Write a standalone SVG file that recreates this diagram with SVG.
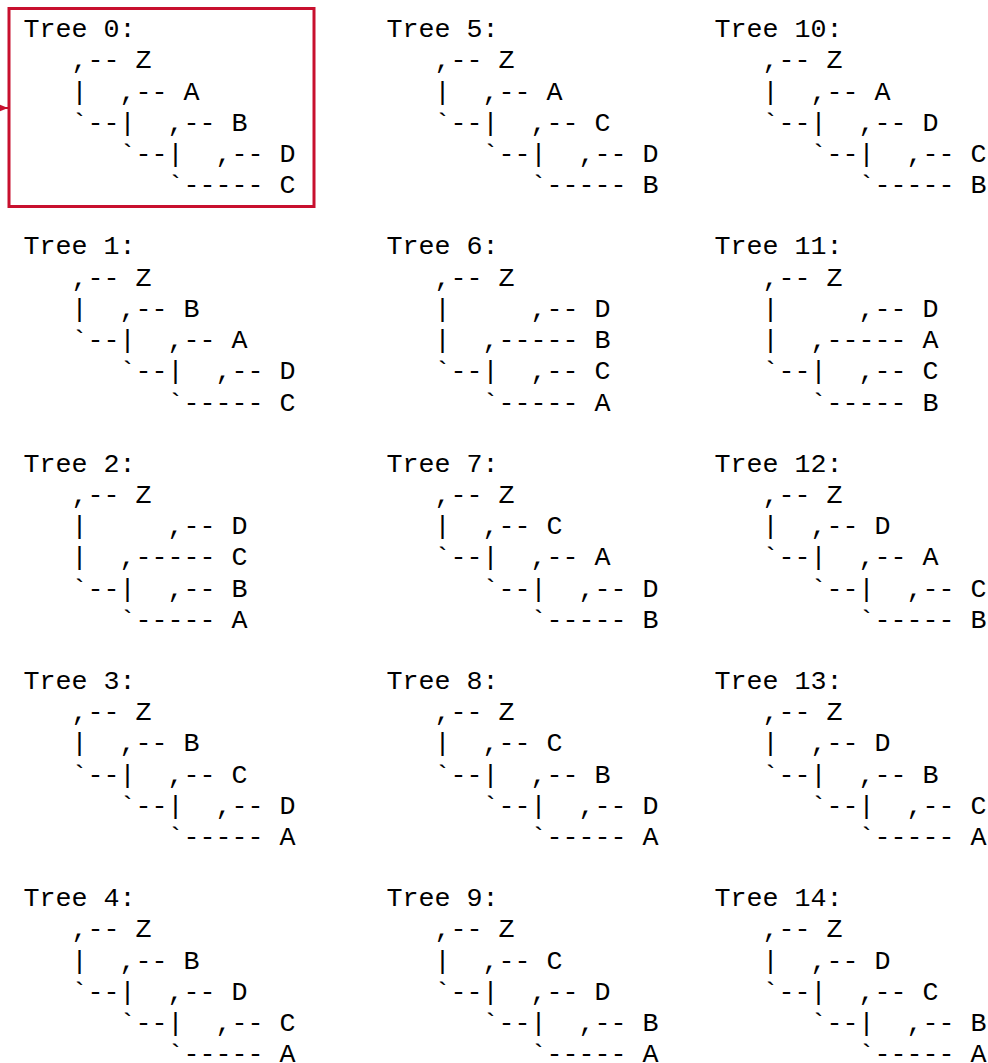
<svg xmlns="http://www.w3.org/2000/svg" width="988" height="1063" viewBox="0 0 988 1063" xml:space="preserve">
<style>
.t{font-family:"Liberation Mono","DejaVu Sans Mono",monospace;font-size:26.67px;fill:#000;white-space:pre}
.hl{fill:none;stroke:#c8102e;stroke-width:3}
</style>
<defs>
<marker id="ah" viewBox="0 0 10 10" refX="10" refY="5" markerWidth="10" markerHeight="10" markerUnits="userSpaceOnUse" orient="auto"><path d="M0,1 L10,5 L0,9 z" fill="#c8102e"/></marker>
</defs>
<rect width="988" height="1063" fill="#fff"/>
<g id="connectors">
<line x1="-20" y1="108" x2="8" y2="108" stroke="#c8102e" stroke-width="2" marker-end="url(#ah)"/>
</g>
<g id="tree0"><rect class="hl" x="9" y="8.5" width="305" height="198"/><text class="t"><tspan x="23.5" y="37">Tree 0:</tspan><tspan x="23.5" y="68.25">   ,-- Z</tspan><tspan x="23.5" y="99.5">   |  ,-- A</tspan><tspan x="23.5" y="130.75">   `--|  ,-- B</tspan><tspan x="23.5" y="162">      `--|  ,-- D</tspan><tspan x="23.5" y="193.25">         `----- C</tspan></text></g>
<g id="tree1"><text class="t"><tspan x="23.5" y="254.25">Tree 1:</tspan><tspan x="23.5" y="285.5">   ,-- Z</tspan><tspan x="23.5" y="316.75">   |  ,-- B</tspan><tspan x="23.5" y="348">   `--|  ,-- A</tspan><tspan x="23.5" y="379.25">      `--|  ,-- D</tspan><tspan x="23.5" y="410.5">         `----- C</tspan></text></g>
<g id="tree2"><text class="t"><tspan x="23.5" y="471.5">Tree 2:</tspan><tspan x="23.5" y="502.75">   ,-- Z</tspan><tspan x="23.5" y="534">   |     ,-- D</tspan><tspan x="23.5" y="565.25">   |  ,----- C</tspan><tspan x="23.5" y="596.5">   `--|  ,-- B</tspan><tspan x="23.5" y="627.75">      `----- A</tspan></text></g>
<g id="tree3"><text class="t"><tspan x="23.5" y="688.75">Tree 3:</tspan><tspan x="23.5" y="720">   ,-- Z</tspan><tspan x="23.5" y="751.25">   |  ,-- B</tspan><tspan x="23.5" y="782.5">   `--|  ,-- C</tspan><tspan x="23.5" y="813.75">      `--|  ,-- D</tspan><tspan x="23.5" y="845">         `----- A</tspan></text></g>
<g id="tree4"><text class="t"><tspan x="23.5" y="906">Tree 4:</tspan><tspan x="23.5" y="937.25">   ,-- Z</tspan><tspan x="23.5" y="968.5">   |  ,-- B</tspan><tspan x="23.5" y="999.75">   `--|  ,-- D</tspan><tspan x="23.5" y="1031">      `--|  ,-- C</tspan><tspan x="23.5" y="1062.25">         `----- A</tspan></text></g>
<g id="tree5"><text class="t"><tspan x="386.5" y="37">Tree 5:</tspan><tspan x="386.5" y="68.25">   ,-- Z</tspan><tspan x="386.5" y="99.5">   |  ,-- A</tspan><tspan x="386.5" y="130.75">   `--|  ,-- C</tspan><tspan x="386.5" y="162">      `--|  ,-- D</tspan><tspan x="386.5" y="193.25">         `----- B</tspan></text></g>
<g id="tree6"><text class="t"><tspan x="386.5" y="254.25">Tree 6:</tspan><tspan x="386.5" y="285.5">   ,-- Z</tspan><tspan x="386.5" y="316.75">   |     ,-- D</tspan><tspan x="386.5" y="348">   |  ,----- B</tspan><tspan x="386.5" y="379.25">   `--|  ,-- C</tspan><tspan x="386.5" y="410.5">      `----- A</tspan></text></g>
<g id="tree7"><text class="t"><tspan x="386.5" y="471.5">Tree 7:</tspan><tspan x="386.5" y="502.75">   ,-- Z</tspan><tspan x="386.5" y="534">   |  ,-- C</tspan><tspan x="386.5" y="565.25">   `--|  ,-- A</tspan><tspan x="386.5" y="596.5">      `--|  ,-- D</tspan><tspan x="386.5" y="627.75">         `----- B</tspan></text></g>
<g id="tree8"><text class="t"><tspan x="386.5" y="688.75">Tree 8:</tspan><tspan x="386.5" y="720">   ,-- Z</tspan><tspan x="386.5" y="751.25">   |  ,-- C</tspan><tspan x="386.5" y="782.5">   `--|  ,-- B</tspan><tspan x="386.5" y="813.75">      `--|  ,-- D</tspan><tspan x="386.5" y="845">         `----- A</tspan></text></g>
<g id="tree9"><text class="t"><tspan x="386.5" y="906">Tree 9:</tspan><tspan x="386.5" y="937.25">   ,-- Z</tspan><tspan x="386.5" y="968.5">   |  ,-- C</tspan><tspan x="386.5" y="999.75">   `--|  ,-- D</tspan><tspan x="386.5" y="1031">      `--|  ,-- B</tspan><tspan x="386.5" y="1062.25">         `----- A</tspan></text></g>
<g id="tree10"><text class="t"><tspan x="714.5" y="37">Tree 10:</tspan><tspan x="714.5" y="68.25">   ,-- Z</tspan><tspan x="714.5" y="99.5">   |  ,-- A</tspan><tspan x="714.5" y="130.75">   `--|  ,-- D</tspan><tspan x="714.5" y="162">      `--|  ,-- C</tspan><tspan x="714.5" y="193.25">         `----- B</tspan></text></g>
<g id="tree11"><text class="t"><tspan x="714.5" y="254.25">Tree 11:</tspan><tspan x="714.5" y="285.5">   ,-- Z</tspan><tspan x="714.5" y="316.75">   |     ,-- D</tspan><tspan x="714.5" y="348">   |  ,----- A</tspan><tspan x="714.5" y="379.25">   `--|  ,-- C</tspan><tspan x="714.5" y="410.5">      `----- B</tspan></text></g>
<g id="tree12"><text class="t"><tspan x="714.5" y="471.5">Tree 12:</tspan><tspan x="714.5" y="502.75">   ,-- Z</tspan><tspan x="714.5" y="534">   |  ,-- D</tspan><tspan x="714.5" y="565.25">   `--|  ,-- A</tspan><tspan x="714.5" y="596.5">      `--|  ,-- C</tspan><tspan x="714.5" y="627.75">         `----- B</tspan></text></g>
<g id="tree13"><text class="t"><tspan x="714.5" y="688.75">Tree 13:</tspan><tspan x="714.5" y="720">   ,-- Z</tspan><tspan x="714.5" y="751.25">   |  ,-- D</tspan><tspan x="714.5" y="782.5">   `--|  ,-- B</tspan><tspan x="714.5" y="813.75">      `--|  ,-- C</tspan><tspan x="714.5" y="845">         `----- A</tspan></text></g>
<g id="tree14"><text class="t"><tspan x="714.5" y="906">Tree 14:</tspan><tspan x="714.5" y="937.25">   ,-- Z</tspan><tspan x="714.5" y="968.5">   |  ,-- D</tspan><tspan x="714.5" y="999.75">   `--|  ,-- C</tspan><tspan x="714.5" y="1031">      `--|  ,-- B</tspan><tspan x="714.5" y="1062.25">         `----- A</tspan></text></g>
</svg>
